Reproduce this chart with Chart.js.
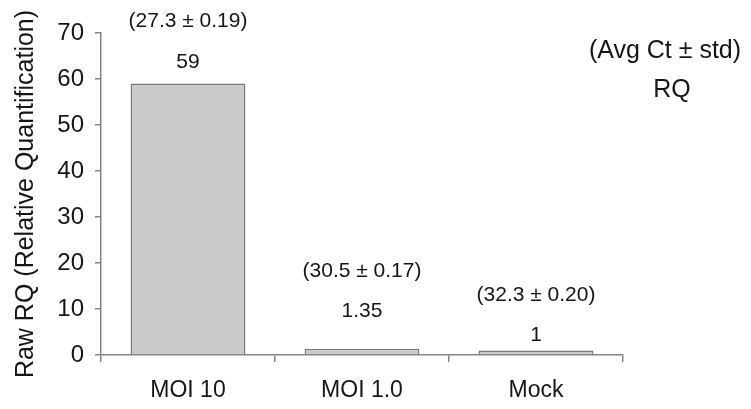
<!DOCTYPE html>
<html lang="en">
<head>
    <meta charset="UTF-8">
    <title>Raw RQ</title>
    <script src="https://cdn.jsdelivr.net/npm/chart.js"></script>
    <style>
        html, body { margin: 0; padding: 0; background: #ffffff; }
        #wrap { width: 751px; height: 409px; position: relative; }
    </style>
</head>
<body>
    <div id="wrap"><canvas id="rqChart" width="751" height="409"></canvas></div>
    <script>
        // data
        const categories = ['MOI 10', 'MOI 1.0', 'Mock'];
        const rqValues = [59, 1.35, 1];
        const rqLabels = ['59', '1.35', '1'];
        const ctLabels = ['(27.3 \u00b1 0.19)', '(30.5 \u00b1 0.17)', '(32.3 \u00b1 0.20)'];
        const yTicks = [0, 10, 20, 30, 40, 50, 60, 70];
        const yTitle = 'Raw RQ (Relative Quantification)';

        const FONT = '"Liberation Sans", Arial, sans-serif';
        const AXIS = '#858585';
        const INK = '#161616';

        // text above each bar, the key on the right and the y title
        const barText = {
            id: 'barText',
            afterDatasetsDraw(chart, args, opts) {
                const ctx = chart.ctx;
                const bars = chart.getDatasetMeta(0).data;
                const area = chart.chartArea;
                ctx.save();
                ctx.fillStyle = INK;
                ctx.font = '21px ' + FONT;
                ctx.textAlign = 'center';
                ctx.textBaseline = 'middle';
                bars.forEach((bar, i) => {
                    ctx.fillText(rqLabels[i], bar.x, bar.y - opts.rqOffset[i]);
                    ctx.fillText(ctLabels[i], bar.x, bar.y - opts.ctOffset[i]);
                });
                ctx.font = '25px ' + FONT;
                ctx.fillText('(Avg Ct \u00b1 std)', 665, 51);
                ctx.fillText('RQ', 672, 90);

                ctx.translate(26, (area.top + area.bottom) / 2);
                ctx.rotate(-Math.PI / 2);
                ctx.font = '25px ' + FONT;
                ctx.fillText(yTitle, 0, 0);
                ctx.restore();
            }
        };

        const ctx = document.getElementById('rqChart').getContext('2d');
        new Chart(ctx, {
            type: 'bar',
            data: {
                labels: categories,
                datasets: [{
                    data: rqValues,
                    backgroundColor: '#cacaca',
                    borderColor: '#7a7a7a',
                    borderWidth: 1.5,
                    borderSkipped: 'bottom',
                    barPercentage: 0.66,
                    categoryPercentage: 1.0
                }]
            },
            options: {
                responsive: false,
                animation: false,
                devicePixelRatio: 1,
                layout: { padding: { top: 33, right: 128, left: 0, bottom: 0 } },
                plugins: {
                    legend: { display: false },
                    tooltip: { enabled: false },
                    barText: {
                        rqOffset: [21, 38, 15],
                        ctOffset: [62, 78, 55]
                    }
                },
                scales: {
                    x: {
                        offset: true,
                        grid: {
                            offset: true,
                            drawOnChartArea: false,
                            drawTicks: true,
                            tickLength: 7,
                            color: AXIS,
                            lineWidth: 1.5
                        },
                        border: { color: AXIS, width: 1.5 },
                        ticks: {
                            color: INK,
                            font: { family: FONT, size: 23 },
                            padding: 15
                        },
                        afterFit(scale) { scale.height = 54; }
                    },
                    y: {
                        min: 0,
                        max: 70,
                        afterBuildTicks(scale) { scale.ticks = yTicks.map(v => ({ value: v })); },
                        grid: {
                            drawOnChartArea: false,
                            drawTicks: true,
                            tickLength: 6,
                            color: AXIS,
                            lineWidth: 1.5
                        },
                        border: { color: AXIS, width: 1.5 },
                        ticks: {
                            color: INK,
                            font: { family: FONT, size: 24 },
                            padding: 11
                        },
                        afterFit(scale) { scale.width = 101; }
                    }
                }
            },
            plugins: [barText]
        });
    </script>
</body>
</html>
